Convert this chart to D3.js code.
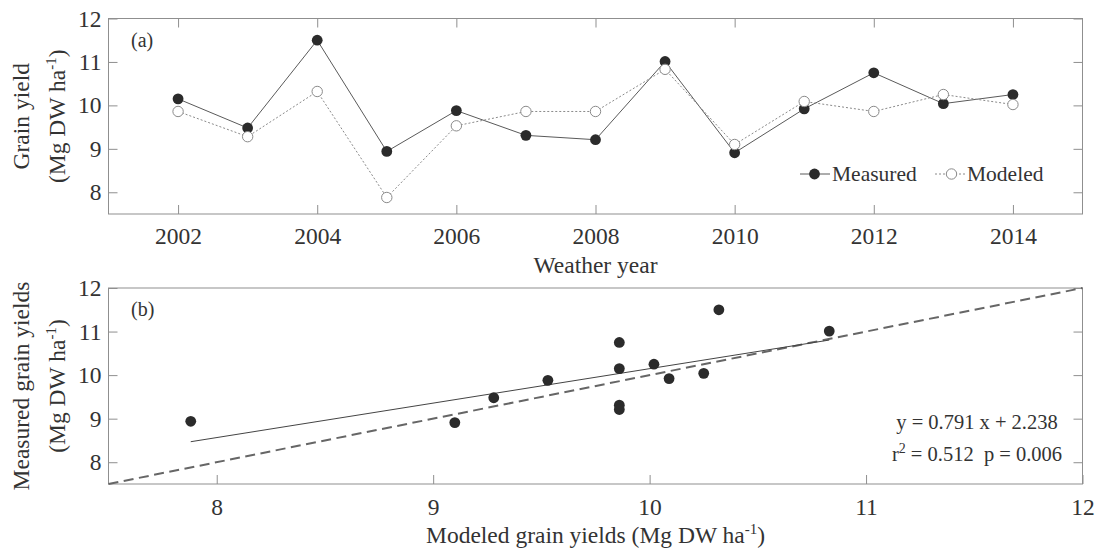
<!DOCTYPE html>
<html>
<head>
<meta charset="utf-8">
<script src="https://cdn.jsdelivr.net/npm/d3@7"></script>
<style>
  body { margin: 0; background: #fff; }
  svg { display: block; }
</style>
</head>
<body>
<svg id="chart" width="1099" height="550"></svg>
<script>
// Grain yield by weather year: measured vs. modeled (Mg DW ha-1)
const years    = [2002, 2003, 2004, 2005, 2006, 2007, 2008, 2009, 2010, 2011, 2012, 2013, 2014];
const measured = [10.15, 9.48, 11.50, 8.94, 9.88, 9.31, 9.21, 11.01, 8.91, 9.92, 10.75, 10.04, 10.25];
const modeled  = [9.86, 9.28, 10.32, 7.88, 9.53, 9.86, 9.86, 10.83, 9.10, 10.09, 9.86, 10.25, 10.02];

const yearTicks    = [2002, 2004, 2006, 2008, 2010, 2012, 2014];
const yieldTicks   = [8, 9, 10, 11, 12];
const modeledTicks = [8, 9, 10, 11, 12];

// Linear fit of measured on modeled
const fitSlope = 0.791, fitIntercept = 2.238;
const fitR2 = 0.512, fitP = 0.006;

const FONT  = '"Liberation Serif", "Times New Roman", Times, serif';
const TEXT  = '#333';
const FRAME = '#8f8f8f';
const DARK  = '#2b2b2b';
const TICK_SIZE = 23.5;

const svg = d3.select('#chart');

const left = 108.5, right = 1082.5;
const panelA = { top: 18.5, bottom: 214 };
const panelB = { top: 288, bottom: 484 };

const xYear = d3.scaleLinear().domain([2001, 2015]).range([left, right]);
const yA    = d3.scaleLinear().domain([7.5, 12]).range([panelA.bottom, panelA.top]);
const xMod  = d3.scaleLinear().domain([7.5, 12]).range([left, right]);
const yB    = d3.scaleLinear().domain([7.5, 12]).range([panelB.bottom, panelB.top]);

const intFmt = d3.format('d');

function finishAxis(g) {
  g.select('.domain').remove();
  g.attr('font-family', FONT).attr('font-size', TICK_SIZE);
  g.selectAll('.tick line').attr('stroke', FRAME);
  g.selectAll('.tick text')
    .attr('fill', TEXT)
    .style('font-family', FONT)
    .style('font-size', TICK_SIZE + 'px');
}

function frame(p) {
  svg.append('rect')
    .attr('x', left).attr('y', p.top)
    .attr('width', right - left).attr('height', p.bottom - p.top)
    .attr('fill', 'none').attr('stroke', FRAME).attr('stroke-width', 1);
}

function label(x, y, size, rotate) {
  return svg.append('text')
    .attr('transform', `translate(${x},${y})` + (rotate ? ' rotate(-90)' : ''))
    .attr('text-anchor', 'middle')
    .style('font-family', FONT).style('font-size', size + 'px')
    .attr('fill', TEXT);
}

function unitLabel(parent, prefix) {
  // "(Mg DW ha^-1)" with raised exponent
  parent.append('tspan').text((prefix || '') + '(Mg DW ha');
  parent.append('tspan').style('font-size', '15px').attr('dy', -9).text('-1');
  parent.append('tspan').attr('dy', 9).text(')');
}

// ---------- Panel (a): time series ----------
svg.append('g').attr('transform', `translate(0,${panelA.bottom})`)
  .call(d3.axisBottom(xYear).tickValues(yearTicks).tickFormat(intFmt)
        .tickSize(-9).tickPadding(13))
  .call(finishAxis);
svg.append('g').attr('transform', `translate(0,${panelA.top})`)
  .call(d3.axisTop(xYear).tickValues(yearTicks).tickFormat('').tickSize(-9))
  .call(finishAxis);
svg.append('g').attr('transform', `translate(${left},0)`)
  .call(d3.axisLeft(yA).tickValues(yieldTicks).tickFormat(intFmt).tickSize(-9).tickPadding(7))
  .call(finishAxis);
svg.append('g').attr('transform', `translate(${right},0)`)
  .call(d3.axisRight(yA).tickValues(yieldTicks).tickFormat('').tickSize(-9))
  .call(finishAxis);
frame(panelA);

const seriesA = years.map((yr, i) => ({ yr, m: measured[i], s: modeled[i] }));

svg.append('path').datum(seriesA)
  .attr('fill', 'none').attr('stroke', '#5a5a5a').attr('stroke-width', 1)
  .attr('d', d3.line().x(d => xYear(d.yr)).y(d => yA(d.m)));
svg.append('g').selectAll('circle').data(seriesA).join('circle')
  .attr('cx', d => xYear(d.yr)).attr('cy', d => yA(d.m)).attr('r', 5.4)
  .attr('fill', DARK);

svg.append('path').datum(seriesA)
  .attr('fill', 'none').attr('stroke', '#8a8a8a').attr('stroke-width', 1)
  .attr('stroke-dasharray', '2,2')
  .attr('d', d3.line().x(d => xYear(d.yr)).y(d => yA(d.s)));
svg.append('g').selectAll('circle').data(seriesA).join('circle')
  .attr('cx', d => xYear(d.yr)).attr('cy', d => yA(d.s)).attr('r', 5.2)
  .attr('fill', '#fff').attr('stroke', '#8a8a8a').attr('stroke-width', 1);

svg.append('text').attr('x', 131).attr('y', 46.5)
  .style('font-family', FONT).style('font-size', '20px').attr('fill', TEXT).text('(a)');

// legend
const legY = 174;
svg.append('line').attr('x1', 800).attr('x2', 830).attr('y1', legY).attr('y2', legY)
  .attr('stroke', '#5a5a5a').attr('stroke-width', 1);
svg.append('circle').attr('cx', 814.5).attr('cy', legY).attr('r', 5.4).attr('fill', DARK);
svg.append('text').attr('x', 832).attr('y', legY + 7.3)
  .style('font-family', FONT).style('font-size', '21.5px').attr('fill', TEXT).text('Measured');
svg.append('line').attr('x1', 935).attr('x2', 967).attr('y1', legY).attr('y2', legY)
  .attr('stroke', '#8a8a8a').attr('stroke-width', 1).attr('stroke-dasharray', '2,2');
svg.append('circle').attr('cx', 951.5).attr('cy', legY).attr('r', 5.2)
  .attr('fill', '#fff').attr('stroke', '#8a8a8a');
svg.append('text').attr('x', 967).attr('y', legY + 7.3)
  .style('font-family', FONT).style('font-size', '21.5px').attr('fill', TEXT).text('Modeled');

// axis titles, panel (a)
label((left + right) / 2, 272.5, 23.5, false).text('Weather year');
const cyA = (panelA.top + panelA.bottom) / 2;
label(29, cyA, 23.5, true).text('Grain yield');
unitLabel(label(65, cyA, 23.5, true));

// ---------- Panel (b): measured vs modeled ----------
svg.append('g').attr('transform', `translate(0,${panelB.bottom})`)
  .call(d3.axisBottom(xMod).tickValues(modeledTicks).tickFormat(intFmt)
        .tickSize(-9).tickPadding(14))
  .call(finishAxis);
svg.append('g').attr('transform', `translate(${left},0)`)
  .call(d3.axisLeft(yB).tickValues(yieldTicks).tickFormat(intFmt).tickSize(-9).tickPadding(7))
  .call(finishAxis);
svg.append('g').attr('transform', `translate(${right},0)`)
  .call(d3.axisRight(yB).tickValues(yieldTicks).tickFormat('').tickSize(-9))
  .call(finishAxis);
frame(panelB);

// 1:1 reference line
svg.append('line')
  .attr('x1', xMod(7.5)).attr('y1', yB(7.5)).attr('x2', xMod(12)).attr('y2', yB(12))
  .attr('stroke', '#666').attr('stroke-width', 2).attr('stroke-dasharray', '10,5.5');

// fitted line over the modeled range
const xExt = d3.extent(modeled);
svg.append('line')
  .attr('x1', xMod(xExt[0])).attr('y1', yB(fitSlope * xExt[0] + fitIntercept))
  .attr('x2', xMod(xExt[1])).attr('y2', yB(fitSlope * xExt[1] + fitIntercept))
  .attr('stroke', '#444').attr('stroke-width', 1);

svg.append('g').selectAll('circle').data(seriesA).join('circle')
  .attr('cx', d => xMod(d.s)).attr('cy', d => yB(d.m)).attr('r', 5.4)
  .attr('fill', DARK);

svg.append('text').attr('x', 131).attr('y', panelB.top + 28.3)
  .style('font-family', FONT).style('font-size', '20px').attr('fill', TEXT).text('(b)');

const eqX = 977;
label(eqX, 428.5, 20.5, false)
  .text(`y = ${fitSlope.toFixed(3)} x + ${fitIntercept.toFixed(3)}`);
const eq2 = label(eqX, 460.5, 20.5, false).style('white-space', 'pre');
eq2.append('tspan').text('r');
eq2.append('tspan').style('font-size', '14px').attr('dy', -8).text('2');
eq2.append('tspan').attr('dy', 8).text(` = ${fitR2.toFixed(3)}  p = ${fitP.toFixed(3)}`);

// axis titles, panel (b)
const cyB = (panelB.top + panelB.bottom) / 2;
label(29, cyB, 23.5, true).text('Measured grain yields');
unitLabel(label(65, cyB, 23.5, true));
unitLabel(label((left + right) / 2, 542.5, 23.5, false), 'Modeled grain yields ');
</script>
</body>
</html>
